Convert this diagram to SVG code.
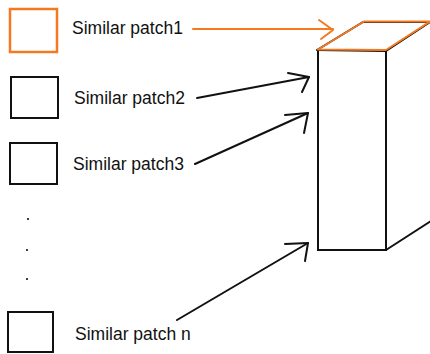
<svg xmlns="http://www.w3.org/2000/svg" width="430" height="354" viewBox="0 0 430 354">
<style>
.lbl{font-family:"Liberation Sans",Arial,sans-serif;font-size:17.5px;fill:#111}
.box{fill:#fff;stroke:#111;stroke-width:2}
.obox{fill:#fff;stroke:#f47920;stroke-width:2.5}
.blk{fill:none;stroke:#111;stroke-width:2;stroke-linecap:round;stroke-linejoin:round}
.org{fill:none;stroke:#f47920;stroke-width:2;stroke-linecap:round;stroke-linejoin:round}
</style>
<rect width="430" height="354" fill="#fff"/>
<g id="patch1">
<rect class="obox" x="10" y="9" width="47" height="43"/>
<text class="lbl" x="72" y="34">Similar patch1</text>
</g>
<g id="patch2">
<rect class="box" x="11" y="77" width="47" height="41"/>
<text class="lbl" x="74" y="104">Similar patch2</text>
</g>
<g id="patch3">
<rect class="box" x="10" y="143" width="47" height="41"/>
<text class="lbl" x="73" y="170">Similar patch3</text>
</g>
<g id="dots" fill="#111">
<circle cx="28" cy="219" r="1.1"/>
<circle cx="27" cy="250" r="1.1"/>
<circle cx="27" cy="279" r="1.1"/>
</g>
<g id="patchn">
<rect class="box" x="8" y="312" width="45" height="40"/>
<text class="lbl" x="75" y="340">Similar patch n</text>
</g>
<g id="column">
<rect class="box" x="318" y="50" width="68" height="200"/>
<polygon class="blk" points="317,50 363,22 430,22 386,51"/>
<polygon class="org" points="318,49.5 364,21.5 430,21.5 386,50"/>
<line class="blk" x1="386" y1="250" x2="431" y2="221"/>
</g>
<g id="connectors">
<line class="org" x1="193" y1="29" x2="333" y2="29"/>
<polyline class="org" points="319,20 333,30 321,39"/>
<line class="blk" x1="197" y1="98" x2="309" y2="77"/>
<polyline class="blk" points="288,73 309,77 302,92"/>
<line class="blk" x1="195" y1="164" x2="308" y2="113"/>
<polyline class="blk" points="285,115 308,113 304,133"/>
<line class="blk" x1="177" y1="320" x2="308" y2="243"/>
<polyline class="blk" points="285,244 308,243 305,261"/>
</g>
</svg>
